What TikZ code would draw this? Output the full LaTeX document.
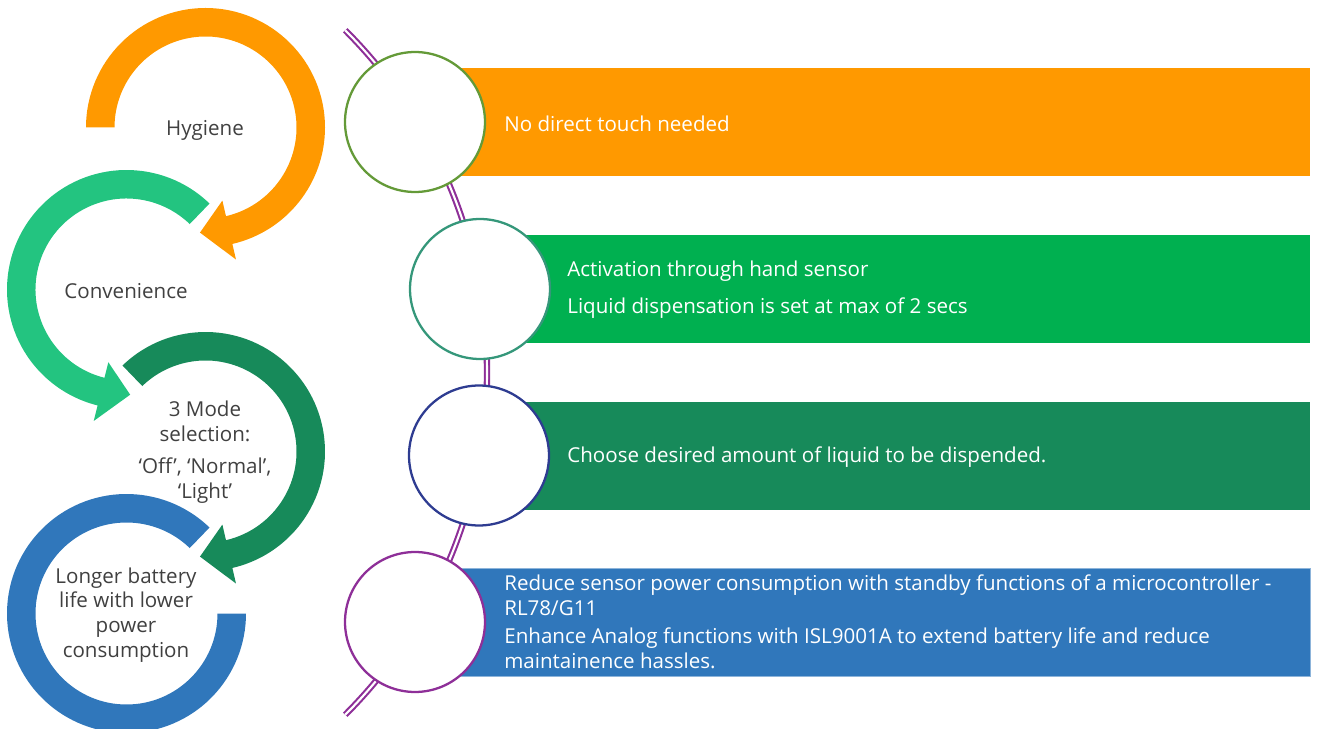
\documentclass[tikz,border=0pt]{standalone}
\usepackage{fontspec}
\setmainfont{Open Sans}
\usepackage{tikz}
\usetikzlibrary{shapes}
\definecolor{arOrange}{RGB}{255,153,0}
\definecolor{arLight}{RGB}{35,196,128}
\definecolor{arDark}{RGB}{23,138,90}
\definecolor{arBlue}{RGB}{48,119,187}
\definecolor{barGreen}{RGB}{0,176,80}
\definecolor{rgOlive}{RGB}{100,154,56}
\definecolor{rgTeal}{RGB}{53,151,122}
\definecolor{rgNavy}{RGB}{46,60,145}
\definecolor{rgPurple}{RGB}{142,47,152}
\definecolor{txtGray}{RGB}{64,64,64}

\begin{document}
\begin{tikzpicture}[x=.02cm, y=-.02cm, font=\fontsize{11.7}{14.1}\selectfont,
  ring/.style={circle, draw=#1, line width=1.3pt, fill=white, minimum size=2.8cm, inner sep=0pt},
  lbl/.style={text=txtGray, align=center},
  bartxt/.style={text=white, anchor=west, align=left, inner xsep=0pt}]
 \useasboundingbox (0,0) rectangle (1318,729);
 \foreach \cx/\cy/\a/\b/\hl/\he/\col in {205.5/127.5/180/437/16/16/arOrange,
   126.5/289.5/314/104/16/16/arLight, 205.5/451.5/226/437/16/16/arDark, 126.5/613.5/314/0/0/0/arBlue}{
  \pgfmathsetmacro{\tip}{\b+\hl*sign(\b-\a)}
  \coordinate (ctr) at (\cx,\cy);
  \fill[\col] (ctr) ++(\a:119.5) arc[start angle=\a, end angle=\b, radius=119.5]
   -- ([shift={(\b:119.5+\he)}]ctr) -- ([shift={(\tip:105.25)}]ctr) -- ([shift={(\b:91-\he)}]ctr)
   -- ([shift={(\b:91)}]ctr) arc[start angle=\b, end angle=\a, radius=91] -- cycle;
  }
 \foreach \x/\y/\col in {460/68/arOrange, 525/235/barGreen, 525/402/arDark, 460/568/arBlue}
  \fill[\col] (\x,\y) rectangle (1310,\y+108);
 \draw[arBlue!55!white, line width=.4pt] (460,568) rectangle (1310,676);
 \draw[rgPurple, line width=1.2pt, double=white, double distance=1.2pt]
  (3,372.5) ++(-45:484) arc[start angle=-45, end angle=45, radius=484];
 \node[ring=rgOlive] (c1) at (415,122) {};
 \node[ring=rgTeal] (c2) at (480,289) {};
 \node[ring=rgNavy] (c3) at (479,455.5) {};
 \node[ring=rgPurple] (c4) at (415,622) {};
 \node[lbl] (hyg) at (205,130) {Hygiene};
 \node[lbl] (conv) at (126,291) {Convenience};
 \node[lbl] (mode) at (205,452) {3 Mode\\ selection:\\[4pt] ‘Off’, ‘Normal’,\\ ‘Light’};
 \node[lbl] (batt) at (126,615) {Longer battery\\ life with lower\\ power\\ consumption};
 \node[bartxt] (t1) at (504,124) {No direct touch needed};
 \node[bartxt] (t2) at (567,290) {Activation through hand sensor\\[7pt] Liquid dispensation is set at max of 2 secs};
 \node[bartxt] (t3) at (567,457) {Choose desired amount of liquid to be dispended.};
 \node[bartxt] (t4) at (504,622) {Reduce sensor power consumption with standby functions of a microcontroller -\\ RL78/G11\\[2pt] Enhance Analog functions with ISL9001A to extend battery life and reduce\\ maintainence hassles.};
\end{tikzpicture}
\end{document}
